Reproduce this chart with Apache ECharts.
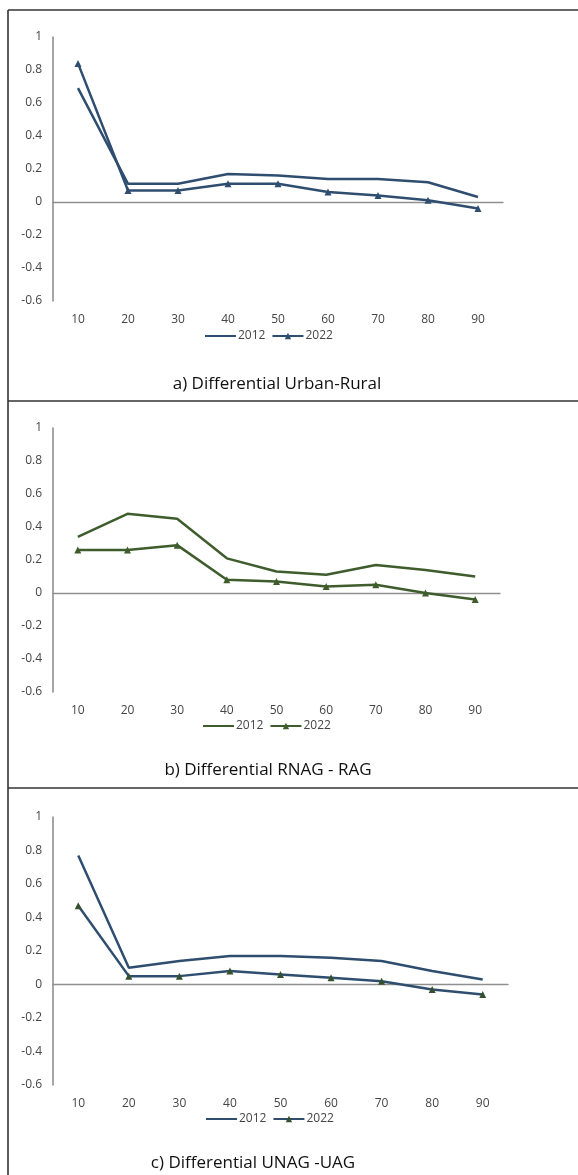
<!DOCTYPE html>
<html>
<head>
<meta charset="utf-8">
<script src="https://cdn.jsdelivr.net/npm/echarts@6/dist/echarts.min.js"></script>
<style>
  html, body { margin: 0; padding: 0; background: #fff; }
  #chart { width: 578px; height: 1175px; }
</style>
</head>
<body>
<div id="chart"></div>
<script>
// deciles on the x axis
const categories = ["10", "20", "30", "40", "50", "60", "70", "80", "90"];

// a) Differential Urban-Rural
const urbanRural2012 = [0.69, 0.11, 0.11, 0.17, 0.16, 0.14, 0.14, 0.12, 0.03];
const urbanRural2022 = [0.84, 0.07, 0.07, 0.11, 0.11, 0.06, 0.04, 0.01, -0.04];

// b) Differential RNAG - RAG
const rnagRag2012 = [0.34, 0.48, 0.45, 0.21, 0.13, 0.11, 0.17, 0.14, 0.10];
const rnagRag2022 = [0.26, 0.26, 0.29, 0.08, 0.07, 0.04, 0.05, 0.0, -0.04];

// c) Differential UNAG -UAG
const unagUag2012 = [0.77, 0.10, 0.14, 0.17, 0.17, 0.16, 0.14, 0.08, 0.03];
const unagUag2022 = [0.47, 0.05, 0.05, 0.08, 0.06, 0.04, 0.02, -0.03, -0.06];

const panelTitles = ["a) Differential Urban-Rural", "b) Differential RNAG - RAG", "c) Differential UNAG -UAG"];

const BLUE = "#2f4e6f";
const GREEN = "#3e5c2c";
const DARKGREEN = "#35502f";
const AXIS = "#8f8f8f";
const LABEL = "#454545";
const FONT = "'Open Sans', sans-serif";

// layout for each panel (pixels)
const grids = [
  { left: 53, top: 37, width: 450, height: 264 },
  { left: 53, top: 428, width: 447, height: 264 },
  { left: 53, top: 817, width: 455, height: 268 },
];
const legendPos = [
  { left: 199, top: 325 },
  { left: 197, top: 715 },
  { left: 200, top: 1108 },
];
const titlePos = [
  { left: 272, top: 371 },
  { left: 263, top: 757 },
  { left: 248, top: 1150 },
];

const panels = [
  { key: "a", s2012: urbanRural2012, s2022: urbanRural2022, line12: BLUE, line22: BLUE, mark22: BLUE },
  { key: "b", s2012: rnagRag2012, s2022: rnagRag2022, line12: GREEN, line22: GREEN, mark22: GREEN },
  { key: "c", s2012: unagUag2012, s2022: unagUag2022, line12: BLUE, line22: BLUE, mark22: DARKGREEN },
];

const xAxes = [], yAxes = [], series = [], legends = [], titles = [];

panels.forEach((p, i) => {
  xAxes.push({
    type: "category",
    gridIndex: i,
    data: categories,
    boundaryGap: true,
    axisLine: { onZero: true, lineStyle: { color: AXIS, width: 1.4 } },
    axisTick: { show: false },
    axisLabel: { color: LABEL, fontSize: 12, fontFamily: FONT, margin: 13 },
    splitLine: { show: false },
  });
  yAxes.push({
    type: "value",
    gridIndex: i,
    min: -0.6,
    max: 1,
    interval: 0.2,
    axisLine: { show: true, lineStyle: { color: AXIS, width: 1.6 } },
    axisTick: { show: false },
    splitLine: { show: false },
    axisLabel: {
      color: LABEL,
      fontSize: 12,
      fontFamily: FONT,
      margin: 11,
      formatter: (v) => String(Math.round(v * 10) / 10),
    },
  });
  series.push({
    name: p.key + "2012",
    type: "line",
    xAxisIndex: i,
    yAxisIndex: i,
    data: p.s2012,
    symbol: "none",
    lineStyle: { color: p.line12, width: 2.5 },
    itemStyle: { color: p.line12 },
  });
  series.push({
    name: p.key + "2022",
    type: "line",
    xAxisIndex: i,
    yAxisIndex: i,
    data: p.s2022,
    symbol: "triangle",
    symbolSize: 7,
    lineStyle: { color: p.line22, width: 2.5 },
    itemStyle: { color: p.mark22 },
  });
  legends.push({
    data: [
      { name: p.key + "2012", itemStyle: { opacity: 0 } },
      { name: p.key + "2022" },
    ],
    left: legendPos[i].left,
    top: legendPos[i].top,
    itemWidth: 31,
    itemHeight: 8,
    itemGap: 6,
    selectedMode: false,
    formatter: (name) => name.slice(1),
    textStyle: { color: LABEL, fontSize: 12, fontFamily: FONT, padding: [0, 0, 0, -3] },
  });
  titles.push({
    text: panelTitles[i],
    left: titlePos[i].left,
    top: titlePos[i].top,
    textAlign: "center",
    textStyle: { color: "#111", fontSize: 17, fontWeight: "normal", fontFamily: FONT },
  });
});

const borderStyle = { stroke: "#333", lineWidth: 1.6 };
const option = {
  animation: false,
  backgroundColor: "#fff",
  title: titles,
  legend: legends,
  grid: grids,
  xAxis: xAxes,
  yAxis: yAxes,
  series: series,
  graphic: [
    { type: "line", shape: { x1: 8, y1: 10, x2: 578, y2: 10 }, style: borderStyle, silent: true },
    { type: "line", shape: { x1: 8, y1: 10, x2: 8, y2: 1175 }, style: borderStyle, silent: true },
    { type: "line", shape: { x1: 8, y1: 401, x2: 578, y2: 401 }, style: borderStyle, silent: true },
    { type: "line", shape: { x1: 8, y1: 788, x2: 578, y2: 788 }, style: borderStyle, silent: true },
  ],
};

const myChart = echarts.init(document.getElementById("chart"));
option && myChart.setOption(option);
</script>
</body>
</html>
